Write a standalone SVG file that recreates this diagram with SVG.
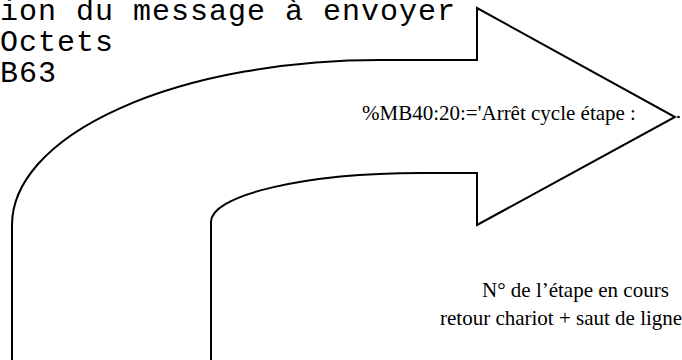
<svg xmlns="http://www.w3.org/2000/svg" width="682" height="360" viewBox="0 0 682 360">
  <style>
    .mono { font-family: "Liberation Mono", "Courier New", monospace; font-size: 30px; letter-spacing: 1px; fill: #000; }
    .serif { font-family: "Liberation Serif", "Times New Roman", serif; font-size: 21px; fill: #000; }
    .outline { fill: #fff; stroke: #000; stroke-width: 2; stroke-linejoin: miter; }
  </style>
  <rect width="682" height="360" fill="#fff"/>
  <g id="code-text">
    <text class="mono" x="0" y="20">ion du message à envoyer</text>
    <text class="mono" x="0" y="51">Octets</text>
    <text class="mono" x="0" y="82">B63</text>
  </g>
  <g id="curved-arrow">
    <path class="outline" d="M12,362 L12,225 A368,165 0 0 1 380,60 L477,60 L477,8 L675,117 L477,225 L477,173 L421,173 A210,49 0 0 0 211,222 L211,362"/>
    <circle cx="678.5" cy="117" r="1.3" fill="#000"/>
  </g>
  <g id="labels">
    <text class="serif" x="362" y="120">%MB40:20:='Arrêt cycle étape :</text>
    <text class="serif" x="482" y="297">N° de l’étape en cours</text>
    <text class="serif" x="440" y="325">retour chariot + saut de ligne</text>
  </g>
</svg>
